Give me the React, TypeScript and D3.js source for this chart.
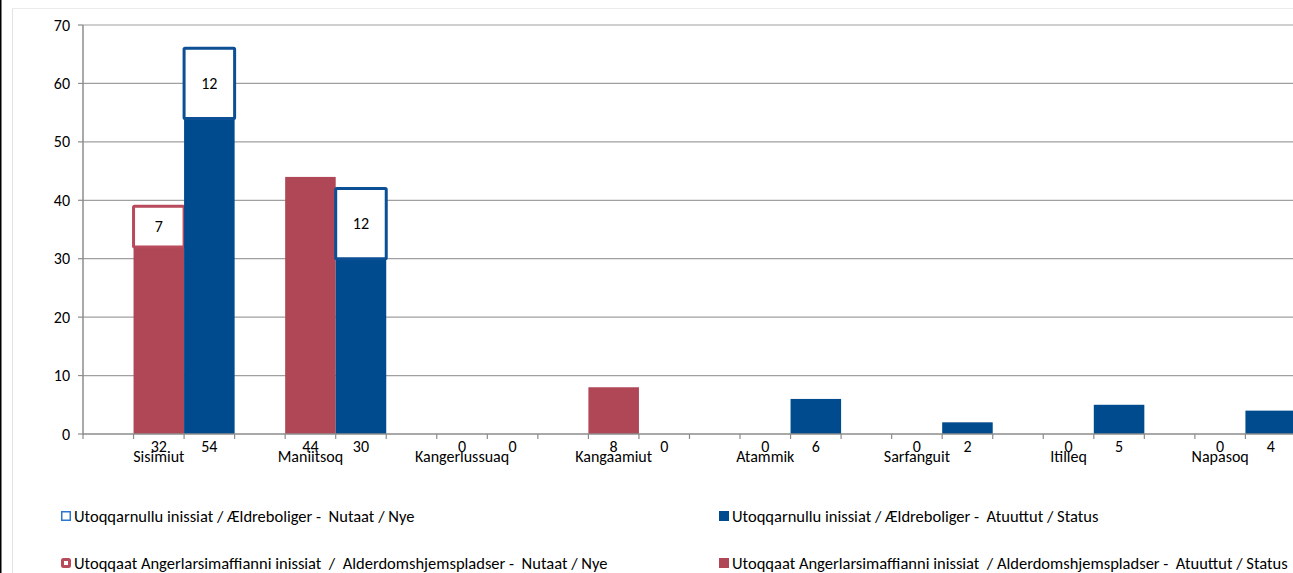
import React from "react";
import * as d3 from "d3";

const categories = ["Sisimiut", "Maniitsoq", "Kangerlussuaq", "Kangaamiut", "Atammik", "Sarfanguit", "Itilleq", "Napasoq"];
const redStatus = [32, 44, 0, 8, 0, 0, 0, 0];
const redNew = [7, 0, 0, 0, 0, 0, 0, 0];
const blueStatus = [54, 30, 0, 0, 6, 2, 5, 4];
const blueNew = [12, 12, 0, 0, 0, 0, 0, 0];
const yTicks = [0, 10, 20, 30, 40, 50, 60, 70];
const legendItems = [
  { label: "Utoqqarnullu inissiat / Ældreboliger -  Nutaat / Nye", kind: "blueHollow" },
  { label: "Utoqqarnullu inissiat / Ældreboliger -  Atuuttut / Status", kind: "blueFill" },
  { label: "Utoqqaat Angerlarsimaffianni inissiat  /  Alderdomshjemspladser -  Nutaat / Nye", kind: "redHollow" },
  { label: "Utoqqaat Angerlarsimaffianni inissiat  / Alderdomshjemspladser -  Atuuttut / Status", kind: "redFill" },
];

const W = 1293;
const H = 573;
const RED = "#AF4756";
const RED_EDGE = "#B84A5C";
const BLUE = "#004B8D";
const BLUE_EDGE = "#0C4F95";
const FONT = "Calibri, Carlito, Lato, 'Open Sans', sans-serif";
const FS = 16;
const LFS = 16.5;

export default function App() {
  const x0 = 83;
  const slotW = 50.54;
  const nSlots = categories.length * 3;
  const x = d3.scaleLinear().domain([0, nSlots]).range([x0, x0 + nSlots * slotW]);
  const y = d3.scaleLinear().domain([0, 70]).range([434, 25]);
  const plotRight = W;

  const bars: any[] = [];
  categories.forEach((c, k) => {
    const rs = 3 * k + 1;
    const bs = 3 * k + 2;
    bars.push({ slot: rs, status: redStatus[k], nw: redNew[k], fill: RED, edge: RED_EDGE, key: "r" + k });
    bars.push({ slot: bs, status: blueStatus[k], nw: blueNew[k], fill: BLUE, edge: BLUE_EDGE, key: "b" + k });
  });

  return (
    <svg width={W} height={H} style={{ position: "absolute", left: 0, top: 0, background: "#fff" }} fontFamily={FONT}>
      <rect x={0} y={0} width={W} height={H} fill="#fff" />
      <line x1={0.75} x2={0.75} y1={0} y2={H} stroke="#000" strokeWidth={1.5} />
      <line x1={12.5} x2={12.5} y1={8.5} y2={H} stroke="#E3E3E3" strokeWidth={1} />
      <line x1={12.5} x2={W} y1={8.5} y2={8.5} stroke="#EBEBEB" strokeWidth={1} />

      {yTicks.filter((t) => t > 0).map((t) => (
        <line key={"g" + t} x1={x0} x2={plotRight} y1={y(t)} y2={y(t)} stroke="#A0A0A0" strokeWidth={1.2} />
      ))}
      <line x1={x0} x2={x0} y1={y(70)} y2={y(0) + 0.5} stroke="#8C8C8C" strokeWidth={1.5} />
      {yTicks.map((t) => (
        <g key={"yt" + t}>
          <line x1={x0 - 5} x2={x0} y1={y(t)} y2={y(t)} stroke="#8C8C8C" strokeWidth={1.2} />
          <text x={70} y={y(t) + 5.5} textAnchor="end" fontSize={FS} fill="#000">{t}</text>
        </g>
      ))}

      {bars.map((b) => {
        const xl = x(b.slot);
        const w = x(b.slot + 1) - xl;
        return (
          <g key={b.key}>
            {b.status > 0 && (
              <rect x={xl} y={y(b.status)} width={w} height={y(0) - y(b.status)} fill={b.fill} />
            )}
            {b.nw > 0 && (
              <g>
                <rect x={xl} y={y(b.status + b.nw)} width={w} height={y(b.status) - y(b.status + b.nw)} fill="#fff" stroke={b.edge} strokeWidth={3} rx={1} />
                <text x={xl + w / 2} y={(y(b.status + b.nw) + y(b.status)) / 2 + 5.5} textAnchor="middle" fontSize={FS} fill="#000">{b.nw}</text>
              </g>
            )}
          </g>
        );
      })}

      <line x1={x0} x2={plotRight} y1={y(0)} y2={y(0)} stroke="#8C8C8C" strokeWidth={1.5} />
      {d3.range(nSlots + 1).map((i) => (
        <line key={"xt" + i} x1={x(i)} x2={x(i)} y1={y(0)} y2={y(0) + 5} stroke="#8C8C8C" strokeWidth={1.2} />
      ))}
      {bars.map((b) => (
        <text key={"sl" + b.key} x={x(b.slot + 0.5)} y={452} textAnchor="middle" fontSize={FS} fill="#000">{b.status}</text>
      ))}
      {categories.map((c, k) => (
        <text key={"c" + c} x={x(3 * k + 1.5)} y={462} textAnchor="middle" fontSize={FS} fill="#000">{c}</text>
      ))}

      {legendItems.map((it, i) => {
        const lx = i % 2 === 0 ? 61 : 719;
        const ly = i < 2 ? 516 : 563;
        let sq;
        if (it.kind === "blueHollow") sq = <rect x={lx + 0.75} y={ly - 4.25} width={8.5} height={8.5} fill="#fff" stroke="#2A78D2" strokeWidth={1.5} />;
        else if (it.kind === "blueFill") sq = <rect x={lx} y={ly - 5} width={10} height={10} fill={BLUE} />;
        else if (it.kind === "redHollow") sq = <rect x={lx + 1.5} y={ly - 3.5} width={7} height={7} fill="#fff" stroke={RED_EDGE} strokeWidth={3} rx={1} />;
        else sq = <rect x={lx} y={ly - 5} width={10} height={10} fill={RED} />;
        return (
          <g key={"lg" + i}>
            {sq}
            <text x={lx + 13} y={ly + 5.5} fontSize={LFS} fill="#000" style={{ whiteSpace: "pre" }}>{it.label}</text>
          </g>
        );
      })}
    </svg>
  );
}
